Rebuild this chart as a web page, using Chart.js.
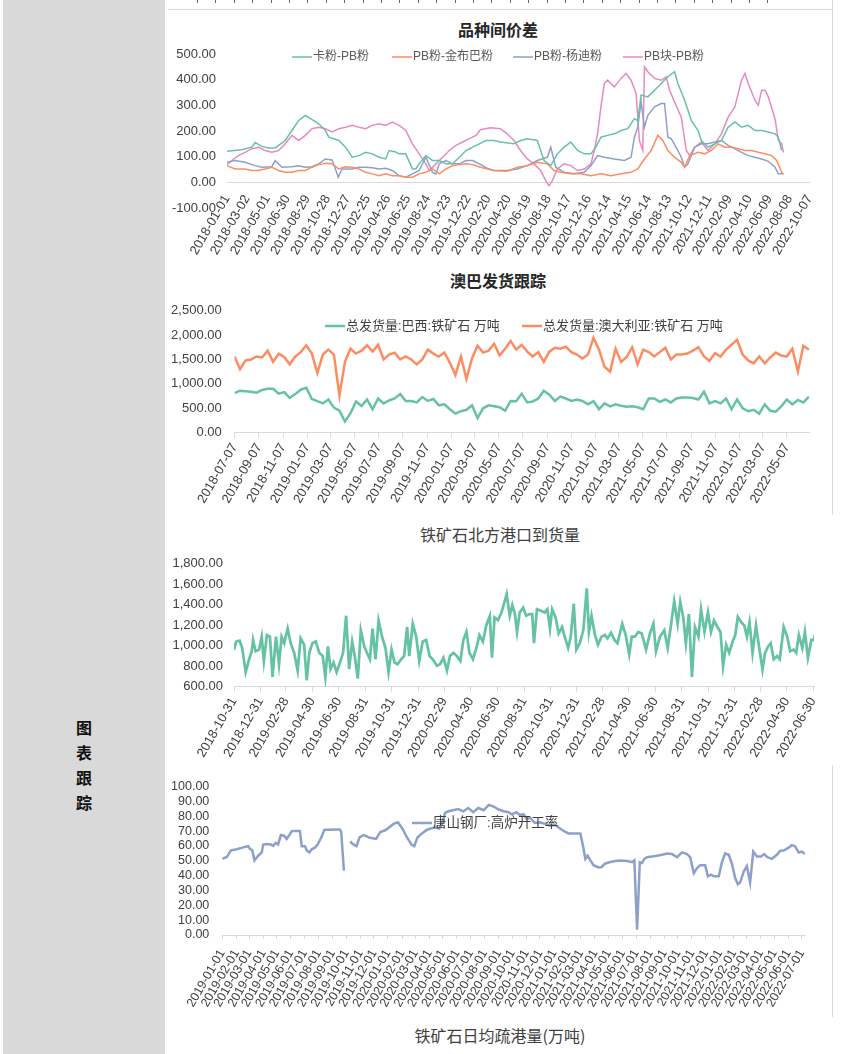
<!DOCTYPE html>
<html lang="zh-CN">
<head>
<meta charset="utf-8">
<title>图表跟踪</title>
<script src="https://cdn.jsdelivr.net/npm/chart.js@4.4.1/dist/chart.umd.min.js"></script>
<style>
  html, body { margin: 0; padding: 0; background: #fff; }
  body { position: relative; width: 842px; height: 1054px; overflow: hidden;
         font-family: "Noto Sans CJK SC", "Liberation Sans", sans-serif; }
  #side { position: absolute; left: 3px; top: 0; width: 162px; height: 1054px; background: #d9d9d9; }
  #sideText { position: absolute; left: 70px; top: 715px; width: 28px; font-size: 16px; font-weight: bold;
              line-height: 25px; text-align: center; color: #111; }
  .title { position: absolute; font-size: 16px; color: #404040; white-space: nowrap; transform: translate(-50%, -50%); }
  .bold { font-weight: bold; color: #262626; }
  .vline { position: absolute; width: 1px; background: #d9d9d9; }
  .hline { position: absolute; height: 1px; background: #d9d9d9; }
  #topTicks { position: absolute; left: 197px; top: 0; width: 585px; height: 3px;
              background: repeating-linear-gradient(to right, #666 0 1px, transparent 1px 18.4px); }
  canvas { position: absolute; }
</style>
</head>
<body>
<div id="side"></div>
<div id="sideText">图<br>表<br>跟<br>踪</div>

<div id="topTicks"></div>
<div class="hline" style="left:168px; top:9px; width:665px;"></div>
<div class="vline" style="left:832px; top:0; height:515px;"></div>
<div class="vline" style="left:832px; top:765px; height:252px;"></div>

<div class="title bold" style="left:498px; top:29px;">品种间价差</div>
<div class="title bold" style="left:498px; top:280px;">澳巴发货跟踪</div>
<div class="title" style="left:500px; top:534px;">铁矿石北方港口到货量</div>
<div class="title" style="left:500px; top:1035px;">铁矿石日均疏港量(万吨)</div>

<canvas id="spread" width="668" height="250" style="left:165px; top:12px;"></canvas>
<canvas id="shipping" width="668" height="225" style="left:165px; top:290px;"></canvas>
<canvas id="arrival" width="668" height="215" style="left:165px; top:545px;"></canvas>
<canvas id="furnace" width="668" height="250" style="left:165px; top:766px;"></canvas>

<script>
// ---------- 品种间价差 (x = 距 2018-01-01 的天数) ----------
const c1Ticks = ["2018-01-01","2018-03-02","2018-05-01","2018-06-30","2018-08-29","2018-10-28","2018-12-27",
  "2019-02-25","2019-04-26","2019-06-25","2019-08-24","2019-10-23","2019-12-22","2020-02-20","2020-04-20",
  "2020-06-19","2020-08-18","2020-10-17","2020-12-16","2021-02-14","2021-04-15","2021-06-14","2021-08-13",
  "2021-10-12","2021-12-11","2022-02-09","2022-04-10","2022-06-09","2022-08-08","2022-10-07"];

const kaFen = [[0,121],[44,127],[74,137],[84,155],[104,140],[124,134],[144,134],[174,163],[194,202],[214,241],
  [234,261],[254,244],[274,228],[294,202],[304,176],[334,163],[354,137],[374,98],[394,104],[414,117],[434,111],
  [454,98],[474,91],[484,124],[504,118],[514,111],[534,111],[554,52],[564,52],[574,72],[594,104],[614,85],
  [634,85],[654,72],[674,72],[694,98],[714,124],[734,137],[754,150],[774,163],[797,163],[817,157],[857,150],
  [877,163],[897,170],[927,163],[947,85],[967,65],[987,111],[1007,137],[1027,157],[1047,124],[1067,111],
  [1087,111],[1102,137],[1117,176],[1137,183],[1157,189],[1177,202],[1197,209],[1217,248],[1227,240],
  [1237,340],[1257,333],[1277,359],[1297,385],[1317,411],[1337,431],[1347,385],[1367,320],[1387,241],
  [1407,202],[1417,163],[1437,137],[1457,150],[1477,163],[1497,215],[1517,235],[1537,215],[1557,222],
  [1577,202],[1597,202],[1617,196],[1637,189],[1647,176],[1657,124]];

const jinBuBa = [[0,65],[24,52],[54,52],[74,46],[94,46],[114,52],[134,59],[154,46],[174,39],[194,39],[214,46],
  [234,46],[254,59],[274,69],[294,74],[314,72],[334,52],[354,61],[374,59],[394,52],[414,39],[434,33],[454,26],
  [474,33],[494,26],[514,26],[534,20],[554,20],[574,33],[594,39],[614,52],[634,33],[654,52],[674,65],[694,69],
  [714,72],[734,69],[757,59],[797,46],[837,43],[867,59],[897,65],[927,78],[957,72],[977,46],[997,39],[1027,33],
  [1057,33],[1087,26],[1117,33],[1147,26],[1177,33],[1207,39],[1227,52],[1247,91],[1267,124],[1287,183],
  [1302,163],[1317,124],[1337,98],[1357,78],[1367,59],[1382,104],[1407,117],[1427,111],[1447,124],[1467,150],
  [1487,137],[1507,137],[1527,131],[1547,124],[1567,124],[1587,117],[1607,111],[1627,104],[1642,85],
  [1657,39],[1662,33]];

const yangDi = [[0,78],[24,85],[54,78],[84,65],[104,59],[134,61],[144,85],[164,59],[194,61],[214,65],[234,59],
  [254,61],[274,72],[294,91],[314,87],[329,33],[332,20],[344,52],[374,52],[394,59],[414,59],[434,57],[454,52],
  [474,55],[494,46],[514,26],[534,20],[554,33],[574,46],[594,98],[614,39],[624,33],[634,72],[654,85],[674,72],
  [694,72],[714,85],[734,85],[754,72],[777,55],[797,46],[837,46],[867,52],[897,65],[927,85],[957,98],[967,137],
  [982,59],[1007,39],[1037,33],[1067,39],[1087,65],[1107,104],[1127,98],[1157,91],[1187,85],[1207,98],
  [1217,176],[1227,215],[1237,313],[1247,215],[1257,261],[1277,294],[1297,307],[1307,307],[1317,176],
  [1327,170],[1347,124],[1357,98],[1367,59],[1377,72],[1397,137],[1417,150],[1437,150],[1457,157],[1477,163],
  [1497,144],[1517,131],[1537,117],[1557,104],[1577,98],[1597,91],[1617,82],[1637,59],[1647,33],[1662,33]];

const pbKuai = [[0,69],[14,85],[34,104],[54,117],[74,131],[94,137],[114,124],[134,117],[154,124],[174,150],
  [194,183],[214,163],[234,183],[254,209],[274,215],[294,209],[314,196],[334,209],[354,215],[374,222],[394,215],
  [414,209],[434,222],[454,228],[474,222],[494,235],[514,222],[534,202],[554,150],[574,111],[594,72],[604,46],
  [624,72],[644,98],[664,124],[684,144],[704,157],[724,170],[744,183],[757,205],[787,213],[817,209],[837,189],
  [857,163],[877,124],[897,91],[917,72],[937,46],[952,7],[962,-13],[972,7],[987,52],[1007,72],[1027,65],
  [1047,46],[1067,52],[1087,72],[1097,124],[1107,189],[1117,294],[1127,385],[1137,398],[1157,372],[1177,405],
  [1192,424],[1207,398],[1222,346],[1232,163],[1242,124],[1247,450],[1257,431],[1277,405],[1297,398],
  [1312,411],[1322,359],[1337,313],[1357,254],[1372,124],[1382,104],[1397,137],[1417,157],[1437,124],
  [1457,150],[1477,189],[1497,254],[1517,294],[1537,398],[1547,424],[1557,385],[1577,320],[1587,300],
  [1597,359],[1607,359],[1617,333],[1637,248],[1647,163],[1657,150],[1662,117]];

// ---------- 澳巴发货跟踪 (两周一个点, 起点 2018-07-07) ----------
const c2Ticks = ["2018-07-07","2018-09-07","2018-11-07","2019-01-07","2019-03-07","2019-05-07","2019-07-07",
  "2019-09-07","2019-11-07","2020-01-07","2020-03-07","2020-05-07","2020-07-07","2020-09-07","2020-11-07",
  "2021-01-07","2021-03-07","2021-05-07","2021-07-07","2021-09-07","2021-11-07","2022-01-07","2022-03-07",
  "2022-05-07"];
const c2Step = 14;

const brazilShip = [809,860,850,840,820,875,900,900,800,830,
  711,790,880,920,690,645,600,680,513,450,
  230,400,640,546,680,480,700,600,660,700,
  790,650,650,620,730,650,690,560,580,480,
  390,440,470,560,300,500,560,540,520,450,
  650,645,800,620,640,700,860,780,650,740,
  700,650,680,650,580,645,480,600,540,580,
  550,530,540,520,480,700,700,630,680,620,
  700,720,720,710,680,840,600,645,600,700,
  480,680,500,440,470,390,580,450,430,540,
  680,580,670,620,740];

const ausShip = [1560,1300,1480,1500,1560,1540,1680,1450,1620,1550,
  1400,1560,1650,1790,1620,1220,1600,1700,1600,760,
  1450,1720,1620,1680,1790,1660,1800,1500,1600,1640,
  1500,1560,1500,1400,1500,1700,1620,1560,1640,1430,
  1180,1560,1100,1520,1780,1640,1680,1820,1580,1720,
  1880,1700,1800,1660,1560,1650,1450,1660,1740,1720,
  1760,1650,1600,1520,1600,1940,1700,1350,1250,1720,
  1450,1550,1750,1400,1700,1650,1560,1650,1740,1500,
  1600,1600,1620,1680,1750,1560,1470,1630,1560,1700,
  1800,1900,1600,1480,1420,1560,1420,1540,1640,1580,
  1560,1720,1250,1780,1700];

// ---------- 铁矿石北方港口到货量 (x = 距 2018-10-31 的天数) ----------
const c3Ticks = ["2018-10-31","2018-12-31","2019-02-28","2019-04-30","2019-06-30","2019-08-31","2019-10-31",
  "2019-12-31","2020-02-29","2020-04-30","2020-06-30","2020-08-31","2020-10-31","2020-12-31","2021-02-28",
  "2021-04-30","2021-06-30","2021-08-31","2021-10-31","2021-12-31","2022-02-28","2022-04-30","2022-06-30"];

const northArrival = [[0,962],[5,1041],[13,1050],[19,978],[27,742],[35,868],[41,946],[44,1057],[50,946],
  [58,962],[64,1088],[69,852],[76,1104],[83,1088],[89,695],[97,1088],[104,820],[110,1088],[116,1025],
  [124,1167],[131,1025],[139,931],[147,757],[154,1072],[162,1010],[168,663],[174,931],[181,1025],[189,1041],
  [197,931],[205,899],[211,695],[217,993],[223,773],[230,836],[237,742],[245,836],[252,931],[259,1293],
  [266,773],[273,1041],[279,899],[286,679],[293,1151],[301,993],[307,931],[314,868],[320,1167],[327,868],
  [334,1246],[342,1088],[350,978],[357,742],[364,962],[371,836],[378,820],[386,868],[393,899],[400,1183],
  [405,899],[413,1214],[421,1088],[428,852],[436,1041],[444,1057],[452,899],[459,868],[469,805],[476,820],
  [484,883],[492,757],[499,899],[507,930],[515,899],[523,852],[530,1057],[537,1135],[544,931],[552,868],
  [560,978],[567,1104],[575,1041],[583,1200],[591,1290],[596,883],[602,1277],[610,1250],[618,1325],
  [630,1504],[637,1293],[643,1397],[649,1309],[654,1135],[660,1325],[668,1372],[675,1293],[683,1309],
  [689,1309],[693,1025],[700,1356],[710,1340],[718,1325],[724,1356],[730,1167],[735,1356],[743,1277],
  [750,1120],[758,1183],[764,1088],[772,978],[778,1088],[785,1410],[791,962],[799,1025],[807,1151],
  [815,1561],[820,1135],[826,1293],[834,1104],[841,1010],[849,1088],[857,1104],[863,1072],[871,1126],
  [879,1057],[886,1025],[897,1214],[905,1104],[913,915],[919,1088],[926,1088],[934,1135],[942,1120],
  [952,962],[961,1120],[969,1214],[975,946],[984,1088],[994,1151],[1002,978],[1010,1214],[1017,1435],
  [1025,1214],[1031,1429],[1038,1277],[1044,1025],[1051,1309],[1058,695],[1065,1183],[1073,1088],
  [1079,1356],[1087,1135],[1095,1325],[1102,1135],[1109,1246],[1117,1183],[1124,1135],[1130,804],
  [1137,1010],[1144,931],[1152,1041],[1158,1104],[1164,1283],[1172,1230],[1179,1198],[1185,1088],
  [1191,1230],[1198,931],[1206,1198],[1213,993],[1221,767],[1227,931],[1234,993],[1240,1025],[1247,868],
  [1255,899],[1261,868],[1270,1183],[1278,1088],[1285,946],[1293,962],[1299,931],[1305,1104],[1313,978],
  [1319,1135],[1326,883],[1334,1057],[1339,1057],[1345,1135]];

// ---------- 唐山钢厂:高炉开工率 (x = 距 2019-01-01 的天数, null 为断点) ----------
const c4Ticks = ["2019-01-01","2019-02-01","2019-03-01","2019-04-01","2019-05-01","2019-06-01","2019-07-01",
  "2019-08-01","2019-09-01","2019-10-01","2019-11-01","2019-12-01","2020-01-01","2020-02-01","2020-03-01",
  "2020-04-01","2020-05-01","2020-06-01","2020-07-01","2020-08-01","2020-09-01","2020-10-01","2020-11-01",
  "2020-12-01","2021-01-01","2021-02-01","2021-03-01","2021-04-01","2021-05-01","2021-06-01","2021-07-01",
  "2021-08-01","2021-09-01","2021-10-01","2021-11-01","2021-12-01","2022-01-01","2022-02-01","2022-03-01",
  "2022-04-01","2022-05-01","2022-06-01","2022-07-01"];

const tsRate = [[0,51.3],[10,52.5],[19,57],[32,57.7],[46,59],[57,59.8],[61,58],[66,57],[71,50.2],[79,53.4],
  [87,55.6],[90,60.9],[98,61.3],[107,60.9],[112,60],[118,62],[123,61],[129,67.3],[136,66.9],[142,64.7],
  [147,67],[153,69.9],[160,70],[171,70],[175,59.8],[182,59.8],[186,57],[192,55.6],[197,57.7],[204,58.8],
  [210,60.9],[218,65.6],[225,70.9],[234,70.9],[252,71],[259,71],[262,69.4],[268,43.4],[275,null],
  [282,63],[287,61.3],[296,59.8],[302,65.6],[311,67.3],[318,66.5],[323,65.6],[331,65.2],[339,64.7],
  [348,69.4],[359,70.5],[368,72.6],[377,74.8],[387,75.9],[397,71.6],[406,66.2],[417,60.9],[423,59.8],
  [430,65.6],[440,68.4],[451,70.9],[462,72],[470,72.6],[478,71.6],[484,74.8],[491,82.3],[498,83.3],
  [513,84.4],[520,84.8],[531,83.3],[542,85.5],[553,82.7],[564,85.5],[576,84],[587,87.6],[598,86.5],
  [609,84.5],[620,83.3],[631,82.7],[638,81.2],[648,82.7],[655,81],[664,81.2],[671,78],[678,79],[689,75.4],
  [700,75.9],[711,74.8],[722,73.7],[734,74],[745,71.6],[756,69.4],[763,68.4],[774,68.4],[789,68.4],
  [795,59.8],[800,51.3],[805,53.4],[811,50.2],[818,47],[829,45.5],[836,45.8],[843,48],[855,49.1],
  [866,49.8],[877,50.2],[892,49.8],[903,49.1],[908,50.2],[914,3.5],[920,49],[925,48.5],[930,51.3],
  [936,52.4],[947,52.8],[958,53.4],[969,54],[980,54.9],[991,54.5],[1002,52.4],[1013,55.6],[1024,54.5],
  [1031,52.4],[1039,41.7],[1046,44.9],[1053,47],[1064,47],[1070,39.5],[1077,40.6],[1083,39.5],[1094,39.5],
  [1101,49.1],[1108,54.9],[1116,54],[1123,48],[1130,38.5],[1136,34.2],[1141,35.3],[1149,42.7],[1156,46.4],
  [1163,35.3],[1170,56.2],[1178,52.8],[1187,52.8],[1194,54.5],[1201,52.4],[1211,51.3],[1222,54],
  [1229,56.6],[1238,57],[1248,58.8],[1255,60.5],[1262,59.8],[1270,55.6],[1277,56.2],[1284,54.5]];

// ---------- 公共设置 ----------
Chart.defaults.font.family = '"Liberation Sans", "Noto Sans CJK SC", sans-serif';
Chart.defaults.color = '#404040';

const GREEN = '#66c2a5', ORANGE = '#fc8d62', BLUE = '#8da0cb', PINK = '#e78ac3';

function dayOf(s, base) {
  return (Date.parse(s) - Date.parse(base)) / 864e5;
}

function fmt(v) {
  return v.toLocaleString('en-US', { minimumFractionDigits: 2, maximumFractionDigits: 2 });
}

// 图例画在绘图区里面（Excel 风格）
const insideLegend = {
  id: 'insideLegend',
  afterDraw(chart, args, opts) {
    const ctx = chart.ctx;
    ctx.save();
    ctx.font = opts.font;
    ctx.textBaseline = 'middle';
    chart.data.datasets.forEach((ds, i) => {
      const [x, y] = opts.items[i];
      ctx.strokeStyle = ds.borderColor;
      ctx.lineWidth = opts.lineWidth;
      ctx.beginPath();
      ctx.moveTo(x, y);
      ctx.lineTo(x + 20, y);
      ctx.stroke();
      ctx.fillStyle = opts.color;
      ctx.fillText(ds.label, x + 21, y);
    });
    ctx.restore();
  }
};

function xAxis(labels, max, extra) {
  const pos = labels.map(s => dayOf(s, labels[0]));
  return Object.assign({
    type: 'linear',
    min: 0,
    max: max,
    afterBuildTicks: (ax) => { ax.ticks = pos.map(v => ({ value: v })); },
    ticks: {
      autoSkip: false, minRotation: 60, maxRotation: 60, padding: 3,
      font: { size: 13 }, color: '#404040',
      callback: (v, i) => labels[i]
    },
    grid: { display: true, drawOnChartArea: false, drawTicks: true, tickLength: 5, color: '#d9d9d9' },
    border: { display: true, color: '#d9d9d9' }
  }, extra);
}

function yAxis(min, max, step, width, pad, size) {
  return {
    min, max,
    ticks: { stepSize: step, autoSkip: false, padding: pad, font: { size: size }, color: '#404040',
             callback: v => fmt(v) },
    grid: { display: false, drawTicks: false },
    border: { display: false },
    afterFit: (ax) => { ax.width = width; }
  };
}

function lineSet(label, data, color, width) {
  return { label, data, borderColor: color, backgroundColor: color, borderWidth: width,
           pointRadius: 0, tension: 0, fill: false, spanGaps: false };
}

function baseOptions(padding, scales, legend) {
  return {
    responsive: false,
    animation: false,
    events: [],
    devicePixelRatio: 1,
    layout: { padding },
    scales,
    plugins: { legend: { display: false }, tooltip: { enabled: false }, insideLegend: legend }
  };
}

// 品种间价差
new Chart(document.getElementById('spread'), {
  type: 'line',
  data: { datasets: [
    lineSet('卡粉-PB粉', kaFen, GREEN, 1.5),
    lineSet('PB粉-金布巴粉', jinBuBa, ORANGE, 1.5),
    lineSet('PB粉-杨迪粉', yangDi, BLUE, 1.5),
    lineSet('PB块-PB粉', pbKuai, PINK, 1.5)
  ] },
  options: baseOptions({ left: 0, right: 23, top: 42, bottom: 54 }, {
    x: xAxis(c1Ticks, 1740, {
      position: { y: 0 },
      grid: { display: true, drawOnChartArea: false, drawTicks: false, color: '#d9d9d9' },
      ticks: { autoSkip: false, minRotation: 60, maxRotation: 60, padding: 10, font: { size: 13 },
               color: '#404040', callback: (v, i) => c1Ticks[i] }
    }),
    y: yAxis(-100, 500, 100, 62, 11, 13)
  }, { font: '12px "Liberation Sans", "Noto Sans CJK SC", sans-serif', color: '#595959', lineWidth: 1.5,
       items: [[127, 45], [227, 45], [348, 45], [458, 45]] }),
  plugins: [insideLegend]
});

// 澳巴发货跟踪
new Chart(document.getElementById('shipping'), {
  type: 'line',
  data: { datasets: [
    lineSet('总发货量:巴西:铁矿石 万吨', brazilShip.map((v, i) => [i * c2Step, v]), GREEN, 2.5),
    lineSet('总发货量:澳大利亚:铁矿石 万吨', ausShip.map((v, i) => [i * c2Step, v]), ORANGE, 2.5)
  ] },
  options: baseOptions({ left: 0, right: 23.3, top: 16.7, bottom: 0 }, {
    x: xAxis(c2Ticks, 1458, { afterFit: (ax) => { ax.height = 82.3; } }),
    y: yAxis(0, 2500, 500, 69.5, 12.8, 13)
  }, { font: '13px "Liberation Sans", "Noto Sans CJK SC", sans-serif', color: '#404040', lineWidth: 2.5,
       items: [[160, 36], [357, 36]] }),
  plugins: [insideLegend]
});

// 铁矿石北方港口到货量
new Chart(document.getElementById('arrival'), {
  type: 'line',
  data: { datasets: [ lineSet('铁矿石北方港口到货量', northArrival, GREEN, 2.75) ] },
  options: baseOptions({ left: 0, right: 19, top: 14.3, bottom: 0 }, {
    x: xAxis(c3Ticks, 1340, { afterFit: (ax) => { ax.height = 73.3; } }),
    y: yAxis(600, 1800, 200, 69, 11, 13)
  }, { items: [] }),
  plugins: []
});

// 唐山钢厂:高炉开工率
new Chart(document.getElementById('furnace'), {
  type: 'line',
  data: { datasets: [ lineSet('唐山钢厂:高炉开工率', tsRate, BLUE, 2.5) ] },
  options: baseOptions({ left: 0, right: 28, top: 13, bottom: 0 }, {
    x: xAxis(c4Ticks, 1284, {
      afterFit: (ax) => { ax.height = 81; },
      grid: { display: true, drawOnChartArea: false, drawTicks: true, tickLength: 4, color: '#d9d9d9' },
      ticks: { autoSkip: false, minRotation: 60, maxRotation: 60, padding: 8, font: { size: 12.5 },
               color: '#404040', callback: (v, i) => c4Ticks[i] }
    }),
    y: yAxis(0, 100, 10, 57.3, 13, 12.5)
  }, { font: '13.5px "Liberation Sans", "Noto Sans CJK SC", sans-serif', color: '#404040', lineWidth: 2.5,
       items: [[247, 57]] }),
  plugins: [insideLegend]
});
</script>
</body>
</html>
